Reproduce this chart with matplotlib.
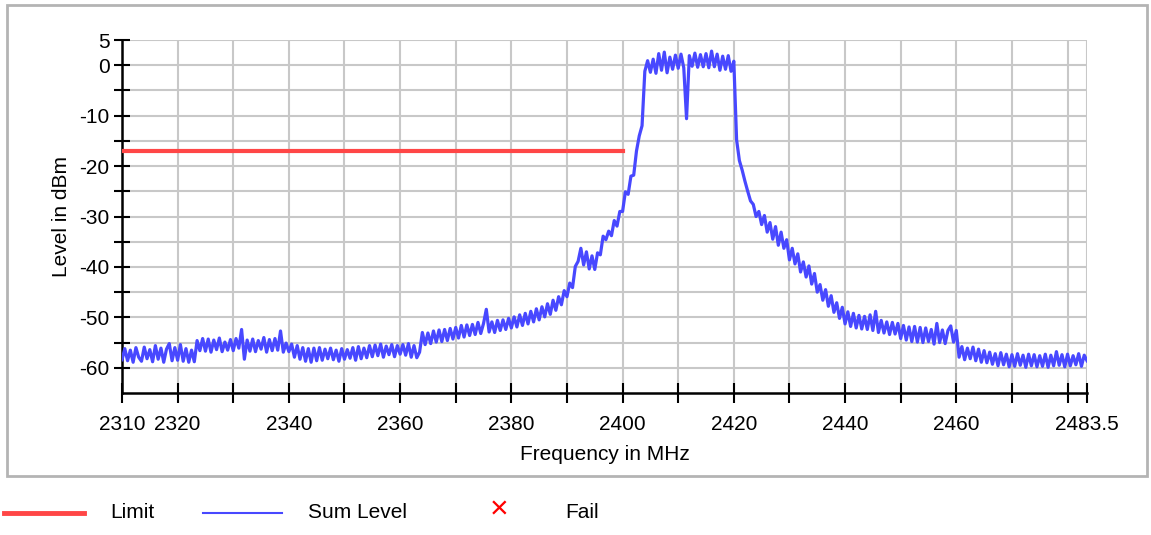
import numpy as np
import matplotlib
matplotlib.use("Agg")
import matplotlib.pyplot as plt
from matplotlib.patches import Rectangle
from matplotlib.lines import Line2D

plt.rcParams["font.family"] = ["Liberation Sans", "DejaVu Sans"]

# spectrum trace, sampled every 0.5 MHz from 2310 MHz
freq_start = 2310.0
freq_step = 0.5
levels = [
    -58.4, -56.2, -58.6, -56.5, -58.9, -56.0, -57.9, -58.7, -55.9, -58.2,
    -56.4, -58.8, -55.6, -58.3, -56.1, -58.9, -56.3, -55.2, -58.6, -56.0,
    -58.5, -55.4, -58.7, -56.2, -58.9, -56.5, -58.8, -54.6, -56.6, -54.2,
    -56.7, -54.3, -56.9, -54.5, -56.4, -54.1, -56.8, -54.9, -56.5, -54.4,
    -56.6, -54.2, -56.1, -52.4, -58.3, -54.5, -56.7, -54.3, -56.8, -54.6,
    -56.3, -54.0, -56.9, -54.4, -56.6, -54.2, -56.5, -52.7, -56.9, -55.1,
    -56.8, -55.3, -57.9, -55.6, -58.3, -56.0, -58.7, -56.2, -58.9, -56.1,
    -58.6, -56.0, -58.5, -56.3, -58.2, -56.1, -58.4, -56.5, -58.7, -56.2,
    -58.3, -56.4, -58.1, -56.0, -58.5, -55.8, -58.2, -56.1, -58.0, -55.6,
    -57.8, -55.5, -57.6, -55.3, -57.9, -55.7, -57.4, -55.4, -57.8, -55.6,
    -57.3, -55.4, -57.5, -55.2, -57.9, -55.6, -58.0, -56.9, -53.0, -55.4,
    -53.1, -55.2, -52.7, -54.9, -52.5, -54.8, -52.4, -54.6, -52.2, -54.3,
    -52.0, -54.1, -51.6, -53.9, -51.5, -53.6, -51.4, -53.4, -51.0, -53.2,
    -51.2, -48.4, -52.9, -50.9, -53.0, -50.6, -52.6, -50.5, -52.4, -50.2,
    -52.1, -49.9, -51.9, -49.5, -51.6, -49.2, -51.3, -48.8, -50.9, -48.3,
    -50.5, -47.9, -49.9, -47.3, -49.4, -46.6, -48.6, -45.9, -47.5, -44.7,
    -45.9, -43.2, -44.1, -39.9, -38.9, -36.3, -39.6, -37.0, -40.4, -37.8,
    -40.5, -37.2, -37.6, -33.9, -34.6, -32.9, -33.8, -30.8, -31.9, -29.0,
    -29.0, -25.1, -25.6, -22.0, -21.8, -17.0, -14.0, -12.0, -1.2, 0.9,
    -1.4, 1.2, -1.6, 2.3, -1.0, 2.6, -1.5, 1.6, -0.8, 2.0,
    -0.6, 2.2, -0.5, -10.6, 1.9, -0.2, 2.4, -0.4, 2.1, -0.3,
    2.3, -0.5, 2.8, -0.3, 2.2, -1.0, 1.8, -0.8, 1.9, -1.2,
    0.8, -14.8, -18.9, -20.8, -23.0, -25.0, -26.9, -27.6, -30.0, -29.0,
    -31.6, -29.8, -33.1, -31.2, -34.5, -32.0, -35.7, -33.1, -36.3, -34.6,
    -38.6, -36.3, -39.4, -37.4, -41.0, -39.0, -42.0, -39.8, -43.4, -41.3,
    -45.0, -43.5, -46.6, -44.5, -47.8, -45.7, -49.0, -47.1, -50.2, -48.0,
    -51.3, -48.9, -51.8, -49.2, -52.1, -49.6, -52.3, -49.8, -52.4, -49.5,
    -52.6, -48.8, -53.0, -50.6, -53.1, -50.9, -53.4, -51.0, -53.3, -51.2,
    -54.2, -51.6, -54.5, -51.9, -54.8, -51.8, -54.9, -52.0, -55.0, -52.1,
    -54.8, -52.4, -55.3, -51.2, -55.0, -52.5, -55.2, -52.6, -51.7, -54.9,
    -52.6, -57.9, -55.8, -58.4, -56.1, -58.2, -55.9, -58.6, -56.3, -58.9,
    -56.6, -59.0, -56.9, -59.3, -57.2, -59.6, -57.0, -59.4, -57.3, -59.8,
    -57.4, -59.7, -57.2, -59.5, -57.5, -59.9, -57.3, -59.6, -57.4, -59.8,
    -57.6, -59.7, -57.3, -59.9, -57.5, -59.6, -56.8, -59.5, -57.4, -59.8,
    -57.3, -59.6, -57.6, -59.4, -57.2, -59.7, -57.5, -58.6,
]
freqs = freq_start + freq_step * np.arange(len(levels))

limit_freqs = [2310, 2400]
limit_levels = [-17, -17]

x_ticks = [2310, 2320, 2330, 2340, 2350, 2360, 2370, 2380, 2390, 2400,
           2410, 2420, 2430, 2440, 2450, 2460, 2470, 2480, 2483.5]
x_labels = ["2310", "2320", "", "2340", "", "2360", "", "2380", "", "2400",
            "", "2420", "", "2440", "", "2460", "", "", "2483.5"]
y_ticks = [5, 0, -5, -10, -15, -20, -25, -30, -35, -40, -45, -50, -55, -60]
y_labels = ["5", "0", "", "-10", "", "-20", "", "-30", "", "-40", "", "-50", "", "-60"]

red = "#ff4646"
blue = "#4848ff"
fs = 15

fig = plt.figure(figsize=(11.51, 5.35), dpi=100)
ax = fig.add_axes([0.106, 0.2654, 0.8384, 0.6598])

ax.plot(freqs, levels, color=blue, lw=2.3, zorder=3)
ax.plot(limit_freqs, limit_levels, color=red, lw=3, zorder=4)

ax.set_xlim(2310, 2483.5)
ax.set_ylim(-65, 5)
ax.set_xticks(x_ticks)
ax.set_xticklabels(x_labels)
ax.set_yticks(y_ticks)
ax.set_yticklabels(y_labels)
ax.grid(True, color="#c8c8c8", lw=1.5, zorder=0)
ax.set_axisbelow(True)
ax.tick_params(axis="both", direction="inout", width=1.5, labelsize=fs)
ax.tick_params(axis="x", length=15, pad=8)
ax.tick_params(axis="y", length=12, pad=3)
for side in ["top", "right"]:
    ax.spines[side].set_visible(False)
for side in ["left", "bottom"]:
    ax.spines[side].set_linewidth(1.8)

ax.set_xlabel("Frequency in MHz", fontsize=fs, labelpad=8)
ax.set_ylabel("Level in dBm", fontsize=fs, labelpad=6)

# grey frame round the chart
fig.patches.append(Rectangle((7 / 1151, 1 - 476 / 535), 1140 / 1151, 471 / 535,
                             transform=fig.transFigure, fill=False,
                             edgecolor="#b4b4b4", lw=2))

# legend below the frame
ly = 1 - 513 / 535
fig.add_artist(Line2D([4 / 1151, 84 / 1151], [ly, ly], color=red, lw=3.5))
fig.text(110 / 1151, ly, "Limit", fontsize=fs, va="center")
fig.add_artist(Line2D([203 / 1151, 282 / 1151], [ly, ly], color=blue, lw=1.5))
fig.text(308 / 1151, ly, "Sum Level", fontsize=fs, va="center")
fig.text(499 / 1151, ly + 0.004, "\u00d7", fontsize=fs + 8, color="red",
         va="center", ha="center")
fig.text(565 / 1151, ly, "Fail", fontsize=fs, va="center")

fig.savefig("out.png", dpi=100)
